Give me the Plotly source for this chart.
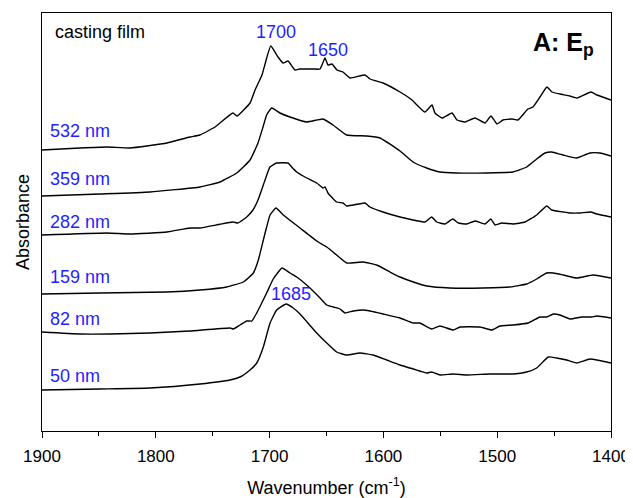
import plotly.graph_objects as go

# ---- data (wavenumber in cm^-1, absorbance with vertical stacking offset, a.u.) ----
wn_532 = [1900, 1866.6, 1842.9, 1822.7, 1790.2, 1770.0, 1761.2, 1748.0, 1732.2, 1728.7, 1717.2, 1712.8,
          1706.7, 1699.0, 1692.6, 1688.2, 1683.8, 1677.7, 1673.3, 1661.9, 1655.7, 1651.3, 1648.7, 1645.2,
          1640.8, 1635.5, 1629.4, 1616.2, 1611.8, 1600.4, 1585.4, 1574.9, 1570.5, 1563.5, 1557.3, 1554.7,
          1548.5, 1539.7, 1535.3, 1528.3, 1519.5, 1510.7, 1505.5, 1500.2, 1494.9, 1487.0, 1481.8, 1473.0,
          1468.6, 1462.4, 1456.3, 1451.9, 1444.8, 1436.1, 1429.9, 1417.6, 1412.3, 1400]
abs_532 = [2.81, 2.83, 2.84, 2.83, 2.88, 2.94, 2.96, 3.04, 3.18, 3.15, 3.28, 3.41,
           3.56, 3.85, 3.74, 3.68, 3.70, 3.61, 3.62, 3.62, 3.62, 3.73, 3.66, 3.67,
           3.61, 3.59, 3.53, 3.56, 3.52, 3.48, 3.39, 3.31, 3.26, 3.19, 3.26, 3.18,
           3.13, 3.18, 3.11, 3.09, 3.13, 3.08, 3.15, 3.07, 3.11, 3.12, 3.11, 3.22,
           3.24, 3.34, 3.44, 3.39, 3.37, 3.35, 3.33, 3.39, 3.36, 3.31]

wn_359 = [1900, 1849.0, 1805.1, 1761.2, 1743.6, 1728.9, 1717.2, 1710.2, 1705.8, 1702.6, 1698.2, 1690.9,
          1682.1, 1667.4, 1653.1, 1644.3, 1632.3, 1614.7, 1603.0, 1585.4, 1574.0, 1562.0, 1550.3, 1535.6,
          1509.3, 1486.1, 1474.1, 1465.3, 1458.0, 1452.1, 1442.2, 1430.2, 1418.5, 1409.7, 1400]
abs_359 = [2.35, 2.37, 2.39, 2.44, 2.49, 2.58, 2.71, 2.88, 3.04, 3.16, 3.23, 3.18,
           3.14, 3.09, 3.12, 3.06, 2.96, 2.95, 2.93, 2.80, 2.69, 2.63, 2.59, 2.58,
           2.58, 2.59, 2.64, 2.72, 2.78, 2.79, 2.76, 2.73, 2.78, 2.78, 2.75]

wn_282 = [1900, 1842.9, 1822.7, 1790.2, 1770.0, 1761.2, 1732.2, 1727.8, 1720.1, 1714.6, 1710.2, 1704.0,
          1699.7, 1693.8, 1683.8, 1680.6, 1676.2, 1667.4, 1658.6, 1653.1, 1651.3, 1648.7, 1641.1, 1635.5,
          1632.3, 1616.2, 1611.8, 1600.4, 1585.4, 1574.0, 1563.5, 1557.6, 1553.2, 1545.9, 1539.1, 1534.2,
          1526.8, 1519.5, 1510.7, 1505.7, 1501.9, 1496.0, 1485.9, 1475.6, 1465.3, 1456.5, 1452.1, 1441.9,
          1436.0, 1427.2, 1417.9, 1412.6, 1400]
abs_282 = [1.96, 1.98, 1.97, 1.99, 2.03, 2.03, 2.09, 2.08, 2.14, 2.21, 2.31, 2.51,
           2.64, 2.68, 2.68, 2.64, 2.59, 2.53, 2.48, 2.43, 2.44, 2.38, 2.29, 2.28,
           2.25, 2.28, 2.24, 2.19, 2.14, 2.11, 2.09, 2.14, 2.09, 2.07, 2.12, 2.08,
           2.07, 2.10, 2.07, 2.12, 2.06, 2.08, 2.07, 2.09, 2.16, 2.25, 2.21, 2.19,
           2.18, 2.18, 2.19, 2.17, 2.14]

wn_159 = [1900, 1849.0, 1790.4, 1761.2, 1737.7, 1723.1, 1714.3, 1709.9, 1705.5, 1702.6, 1699.6, 1694.4,
          1688.0, 1673.3, 1658.6, 1649.8, 1641.1, 1632.3, 1617.7, 1605.9, 1594.2, 1585.4, 1573.7, 1561.9,
          1541.5, 1512.2, 1488.8, 1474.1, 1465.3, 1456.5, 1450.7, 1441.9, 1430.2, 1415.6, 1400]
abs_159 = [1.37, 1.38, 1.39, 1.41, 1.44, 1.49, 1.58, 1.71, 1.91, 2.04, 2.16, 2.23,
           2.16, 2.03, 1.90, 1.84, 1.76, 1.68, 1.69, 1.66, 1.59, 1.54, 1.49, 1.45,
           1.43, 1.43, 1.44, 1.47, 1.52, 1.58, 1.58, 1.56, 1.53, 1.56, 1.53]

wn_82 = [1900, 1866.6, 1840.2, 1805.1, 1770.0, 1734.8, 1731.9, 1726.0, 1720.1, 1715.7, 1711.3, 1702.6,
         1696.8, 1689.1, 1682.1, 1676.2, 1664.5, 1655.7, 1649.8, 1644.0, 1638.1, 1633.8, 1626.5, 1617.7,
         1611.8, 1600.1, 1585.4, 1573.7, 1567.9, 1557.6, 1550.3, 1538.6, 1532.7, 1515.1, 1504.9, 1497.6,
         1485.9, 1472.7, 1462.4, 1456.5, 1450.7, 1444.8, 1436.0, 1425.8, 1416.9, 1412.6, 1400]
abs_82 = [0.99, 0.97, 0.97, 0.98, 1.00, 1.03, 1.02, 1.06, 1.10, 1.10, 1.18, 1.38,
          1.52, 1.63, 1.58, 1.54, 1.43, 1.33, 1.26, 1.24, 1.22, 1.18, 1.20, 1.21,
          1.20, 1.17, 1.13, 1.08, 1.08, 1.02, 1.05, 1.01, 1.04, 1.04, 1.01, 1.05,
          1.06, 1.08, 1.14, 1.14, 1.17, 1.16, 1.12, 1.14, 1.14, 1.15, 1.13]

wn_50 = [1900, 1849.0, 1805.1, 1761.2, 1734.8, 1726.0, 1717.2, 1711.3, 1705.5, 1699.6, 1693.8, 1685.6,
         1679.2, 1673.3, 1658.6, 1649.8, 1641.1, 1632.3, 1620.6, 1608.9, 1597.1, 1585.4, 1573.7, 1561.9,
         1557.6, 1550.3, 1538.6, 1526.8, 1506.3, 1485.9, 1474.1, 1465.3, 1455.1, 1447.8, 1439.0, 1430.2,
         1418.5, 1400]
abs_50 = [0.41, 0.42, 0.43, 0.47, 0.51, 0.54, 0.61, 0.68, 0.84, 1.08, 1.21, 1.27,
          1.23, 1.17, 0.98, 0.88, 0.79, 0.76, 0.78, 0.76, 0.71, 0.66, 0.62, 0.58,
          0.59, 0.56, 0.57, 0.56, 0.57, 0.57, 0.59, 0.63, 0.74, 0.73, 0.71, 0.68,
          0.72, 0.68]

series = [
    ("532 nm", wn_532, abs_532),
    ("359 nm", wn_359, abs_359),
    ("282 nm", wn_282, abs_282),
    ("159 nm", wn_159, abs_159),
    ("82 nm", wn_82, abs_82),
    ("50 nm", wn_50, abs_50),
]

# vertical positions of the thickness labels (paper fraction)
label_y = [0.718, 0.603, 0.500, 0.369, 0.268, 0.132]

peak_labels = ["1700", "1650", "1685"]
peak_x = [1694, 1649, 1681]
peak_y = [3.99, 3.81, 1.37]

FONT = "Liberation Sans, Arial, sans-serif"
BLUE = "#1f1fff"

fig = go.Figure()
for name, wn, ab in series:
    fig.add_trace(go.Scatter(x=wn, y=ab, mode="lines", name=name,
                             line=dict(color="black", width=1.4, shape="spline", smoothing=0.4),
                             showlegend=False, hoverinfo="skip"))

annotations = []
for (name, _, _), ly in zip(series, label_y):
    annotations.append(dict(text=name, xref="paper", yref="paper", x=0.0105, y=ly,
                            xanchor="left", yanchor="middle", showarrow=False,
                            font=dict(color=BLUE, size=18, family=FONT)))
for t, px, py in zip(peak_labels, peak_x, peak_y):
    annotations.append(dict(text=t, xref="x", yref="y", x=px, y=py,
                            xanchor="center", yanchor="middle", showarrow=False,
                            font=dict(color=BLUE, size=18, family=FONT)))
annotations.append(dict(text="casting film", xref="paper", yref="paper", x=0.019, y=0.955,
                        xanchor="left", yanchor="middle", showarrow=False,
                        font=dict(color="black", size=18, family=FONT)))
annotations.append(dict(text="<b>A: E<sub>p</sub></b>", xref="paper", yref="paper", x=0.974, y=0.925,
                        xanchor="right", yanchor="middle", showarrow=False,
                        font=dict(color="black", size=25, family=FONT)))

# the page body has an 8px default margin, so the figure is sized to fit the window
fig.update_layout(
    width=625, height=490,
    margin=dict(l=34, r=22, t=5, b=67, autoexpand=False),
    paper_bgcolor="white", plot_bgcolor="white",
    font=dict(family=FONT, size=17, color="black"),
    annotations=annotations,
    xaxis=dict(range=[1900, 1400], autorange=False, automargin=False,
               tickmode="array", tickvals=[1900, 1800, 1700, 1600, 1500, 1400],
               ticks="outside", ticklen=6, tickwidth=1.2, tickcolor="black",
               ticklabelstandoff=3,
               minor=dict(tickvals=[1850, 1750, 1650, 1550, 1450], ticks="outside",
                          ticklen=3.5, tickwidth=1.2, tickcolor="black"),
               showline=True, linecolor="black", linewidth=1.3, mirror=True,
               showgrid=False, zeroline=False,
               tickfont=dict(size=17, family=FONT),
               title=dict(text="Wavenumber (cm<sup>-1</sup>)", font=dict(size=18, family=FONT),
                          standoff=18)),
    yaxis=dict(range=[0, 4.18], autorange=False, automargin=False,
               showticklabels=False, ticks="",
               showline=True, linecolor="black", linewidth=1.3, mirror=True,
               showgrid=False, zeroline=False,
               title=dict(text="Absorbance", font=dict(size=18, family=FONT), standoff=6)),
)

fig.write_html("out.html")
